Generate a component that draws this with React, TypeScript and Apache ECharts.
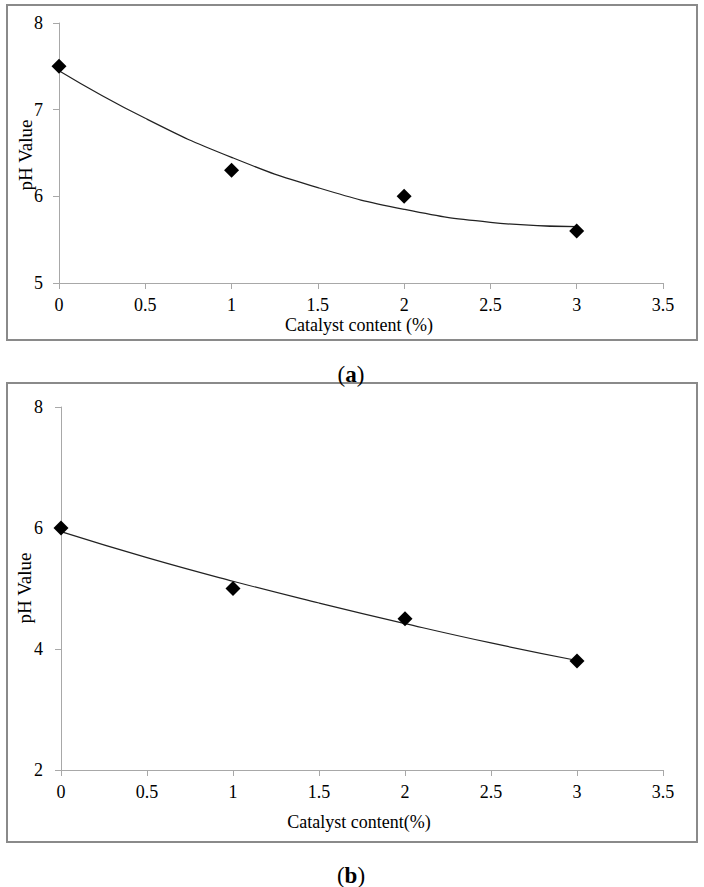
import React, { useEffect, useRef } from "react";
import * as echarts from "echarts";

// Panel (a)
const pointsA: [number, number][] = [
  [0, 7.5],
  [1, 6.3],
  [2, 6.0],
  [3, 5.6],
];
// trend line (polynomial)
const trendA: [number, number][] = [
  [0, 7.45],
  [0.5, 6.9],
  [1, 6.45],
  [1.5, 6.1],
  [2, 5.85],
  [2.5, 5.7],
  [3, 5.65],
];
// Panel (b)
const pointsB: [number, number][] = [
  [0, 6.0],
  [1, 5.0],
  [2, 4.5],
  [3, 3.8],
];
const trendB: [number, number][] = [
  [0, 5.94],
  [0.5, 5.51],
  [1, 5.12],
  [1.5, 4.76],
  [2, 4.42],
  [2.5, 4.1],
  [3, 3.81],
];

const xTitleA = "Catalyst content (%)";
const xTitleB = "Catalyst content(%)";
const yTitle = "pH Value";

const SERIF = "Liberation Serif";
const AXIS_GRAY = "#a8a8a8";

function xAxisOpt(gridIndex: number) {
  return {
    type: "value",
    gridIndex,
    min: 0,
    max: 3.5,
    interval: 0.5,
    axisLine: { show: true, lineStyle: { color: AXIS_GRAY, width: 1 } },
    axisTick: { show: true, length: 6, lineStyle: { color: AXIS_GRAY } },
    axisLabel: { fontFamily: SERIF, fontSize: 18, color: "#000", margin: 13 },
    splitLine: { show: false },
  };
}

function yAxisOpt(gridIndex: number, min: number, max: number, interval: number, margin: number) {
  return {
    type: "value",
    gridIndex,
    min,
    max,
    interval,
    axisLine: { show: true, lineStyle: { color: AXIS_GRAY, width: 1 } },
    axisTick: { show: true, length: 6, lineStyle: { color: AXIS_GRAY } },
    axisLabel: { fontFamily: SERIF, fontSize: 18, color: "#000", margin },
    splitLine: { show: false },
  };
}

function caption(letter: string, y: number) {
  return {
    type: "text",
    x: 351,
    y,
    style: {
      text: "{n|(}{b|" + letter + "}{n|)}",
      fontFamily: SERIF,
      fontSize: 23,
      fill: "#000",
      textAlign: "center",
      textVerticalAlign: "middle",
      rich: {
        n: { fontFamily: SERIF, fontSize: 23, fill: "#000" },
        b: { fontWeight: "bold", fontFamily: SERIF, fontSize: 23, fill: "#000" },
      },
    },
  };
}

function plainText(text: string, x: number, y: number, size: number, rotation = 0) {
  return {
    type: "text",
    x,
    y,
    rotation,
    style: {
      text,
      fontFamily: SERIF,
      fontSize: size,
      fill: "#000",
      textAlign: "center",
      textVerticalAlign: "middle",
    },
  };
}

export default function App() {
  const ref = useRef<HTMLDivElement>(null);
  useEffect(() => {
    if (!ref.current) return;
    const chart = echarts.init(ref.current, null, { renderer: "svg" });
    const option = {
      animation: false,
      backgroundColor: "#fff",
      grid: [
        { left: 59, top: 23, width: 604, height: 260 },
        { left: 61, top: 407, width: 602, height: 363 },
      ],
      xAxis: [xAxisOpt(0), xAxisOpt(1)],
      yAxis: [yAxisOpt(0, 5, 8, 1, 16), yAxisOpt(1, 2, 8, 2, 18)],
      series: [
        {
          type: "line",
          xAxisIndex: 0,
          yAxisIndex: 0,
          data: trendA,
          smooth: true,
          showSymbol: false,
          lineStyle: { color: "#222", width: 1.2 },
          z: 2,
        },
        {
          type: "scatter",
          xAxisIndex: 0,
          yAxisIndex: 0,
          data: pointsA,
          symbol: "diamond",
          symbolSize: 15,
          itemStyle: { color: "#000", opacity: 1 },
          z: 3,
        },
        {
          type: "line",
          xAxisIndex: 1,
          yAxisIndex: 1,
          data: trendB,
          smooth: true,
          showSymbol: false,
          lineStyle: { color: "#222", width: 1.2 },
          z: 2,
        },
        {
          type: "scatter",
          xAxisIndex: 1,
          yAxisIndex: 1,
          data: pointsB,
          symbol: "diamond",
          symbolSize: 15,
          itemStyle: { color: "#000", opacity: 1 },
          z: 3,
        },
      ],
      graphic: [
        {
          type: "rect",
          shape: { x: 7, y: 5, width: 690, height: 335 },
          style: { fill: "none", stroke: "#8a8a8a", lineWidth: 2 },
          silent: true,
        },
        {
          type: "rect",
          shape: { x: 7, y: 383, width: 690, height: 459 },
          style: { fill: "none", stroke: "#8a8a8a", lineWidth: 2 },
          silent: true,
        },
        plainText(xTitleA, 359, 325, 18),
        plainText(xTitleB, 359, 822, 18),
        plainText(yTitle, 25, 155, 19, Math.PI / 2),
        plainText(yTitle, 24, 588, 19, Math.PI / 2),
        caption("a", 374),
        caption("b", 875),
      ],
    };
    chart.setOption(option as any);
    return () => chart.dispose();
  }, []);
  return (
    <div
      ref={ref}
      style={{ position: "absolute", left: 0, top: 0, width: 704, height: 887, background: "#fff" }}
    />
  );
}
